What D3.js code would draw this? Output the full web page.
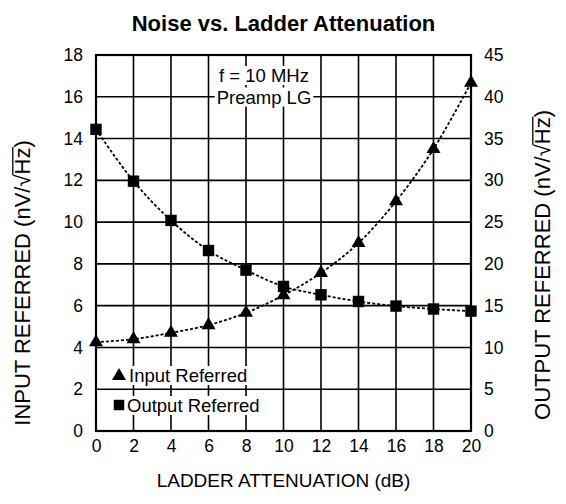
<!DOCTYPE html>
<html>
<head>
<meta charset="utf-8">
<script src="https://cdn.jsdelivr.net/npm/d3@7"></script>
<style>
  body { margin: 0; background: #fff; }
  svg { display: block; font-family: "Liberation Sans", Arial, sans-serif; }
</style>
</head>
<body>
<div id="chart"></div>
<script>
// values
const attenuation = [0, 2, 4, 6, 8, 10, 12, 14, 16, 18, 20];
const inputReferred = [4.25, 4.4, 4.7, 5.07, 5.66, 6.5, 7.57, 9.0, 11.0, 13.5, 16.67];
const outputReferred = [36.1, 29.9, 25.2, 21.6, 19.25, 17.3, 16.3, 15.5, 14.95, 14.6, 14.35];
const leftTicks = [0, 2, 4, 6, 8, 10, 12, 14, 16, 18];
const rightTicks = [0, 5, 10, 15, 20, 25, 30, 35, 40, 45];
const notes = ["f = 10 MHz", "Preamp LG"];
const legendItems = ["Input Referred", "Output Referred"];

const width = 566, height = 504;
const margin = {top: 55, right: 95, bottom: 73, left: 96};
const w = width - margin.left - margin.right;
const h = height - margin.top - margin.bottom;

const svg = d3.select("#chart")
    .append("svg")
    .attr("width", width)
    .attr("height", height);

const g = svg.append("g")
    .attr("transform", "translate(" + margin.left + "," + margin.top + ")");

const x = d3.scaleLinear().domain([0, 20]).range([0, w]);
const yL = d3.scaleLinear().domain([0, 18]).range([h, 0]);
const yR = d3.scaleLinear().domain([0, 45]).range([h, 0]);

// grid
g.append("g")
    .selectAll("line.v")
    .data(attenuation)
    .join("line")
    .attr("x1", d => x(d)).attr("x2", d => x(d))
    .attr("y1", 0).attr("y2", h)
    .attr("stroke", "#000").attr("stroke-width", 1.6);

g.append("g")
    .selectAll("line.h")
    .data(leftTicks)
    .join("line")
    .attr("x1", 0).attr("x2", w)
    .attr("y1", d => yL(d)).attr("y2", d => yL(d))
    .attr("stroke", "#000").attr("stroke-width", 1.6);

g.append("rect")
    .attr("width", w).attr("height", h)
    .attr("fill", "none").attr("stroke", "#000").attr("stroke-width", 2.2);

// axes
const axL = g.append("g")
    .call(d3.axisLeft(yL).tickValues(leftTicks).tickSize(0).tickPadding(13));
const axR = g.append("g")
    .attr("transform", "translate(" + w + ",0)")
    .call(d3.axisRight(yR).tickValues(rightTicks).tickSize(0).tickPadding(13));
const axB = g.append("g")
    .attr("transform", "translate(0," + h + ")")
    .call(d3.axisBottom(x).tickValues(attenuation).tickSize(0).tickPadding(9));

[axL, axR, axB].forEach(a => {
  a.select(".domain").remove();
  a.selectAll("text")
      .attr("font-size", "17.5px")
      .attr("font-family", "Liberation Sans, Arial, sans-serif")
      .attr("fill", "#000");
});

// annotation boxes with white background
function boxedText(parent, tx, ty, str, anchor, size) {
  const grp = parent.append("g");
  const bg = grp.append("rect").attr("fill", "#fff");
  const t = grp.append("text")
      .attr("x", tx).attr("y", ty)
      .attr("text-anchor", anchor)
      .attr("font-size", size)
      .text(str);
  const b = t.node().getBBox();
  bg.attr("x", b.x - 2).attr("y", b.y + 1)
    .attr("width", b.width + 4).attr("height", b.height - 2);
  return grp;
}

boxedText(svg, 264, 82, notes[0], "middle", "18.5px");
boxedText(svg, 264, 103.5, notes[1], "middle", "18.5px");

// lines
const line = (ys, sc) => d3.line()
    .x((d, i) => x(attenuation[i]))
    .y(d => sc(d))
    .curve(d3.curveCatmullRom)(ys);

g.append("path")
    .attr("d", line(outputReferred, yR))
    .attr("fill", "none").attr("stroke", "#000")
    .attr("stroke-width", 1.8).attr("stroke-dasharray", "3,2");

g.append("path")
    .attr("d", line(inputReferred, yL))
    .attr("fill", "none").attr("stroke", "#000")
    .attr("stroke-width", 1.8).attr("stroke-dasharray", "3,2");

const tri = d3.symbol().type(d3.symbolTriangle).size(85);
const sq = d3.symbol().type(d3.symbolSquare).size(130);

g.selectAll("path.tri")
    .data(inputReferred)
    .join("path")
    .attr("class", "tri")
    .attr("d", tri)
    .attr("transform", (d, i) => "translate(" + x(attenuation[i]) + "," + yL(d) + ")")
    .attr("fill", "#000");

g.selectAll("path.sq")
    .data(outputReferred)
    .join("path")
    .attr("class", "sq")
    .attr("d", sq)
    .attr("transform", (d, i) => "translate(" + x(attenuation[i]) + "," + yR(d) + ")")
    .attr("fill", "#000");

// legend
boxedText(svg, 129, 382, legendItems[0], "start", "18.5px");
boxedText(svg, 127, 412, legendItems[1], "start", "18.5px");
svg.append("path").attr("d", tri).attr("transform", "translate(119,376)");
svg.append("path").attr("d", d3.symbol().type(d3.symbolSquare).size(110))
    .attr("transform", "translate(119,405)");

// title
svg.append("text")
    .attr("x", margin.left + w / 2).attr("y", 31)
    .attr("text-anchor", "middle")
    .attr("font-size", "22px").attr("font-weight", "bold")
    .text("Noise vs. Ladder Attenuation");

// x axis title
svg.append("text")
    .attr("x", margin.left + w / 2).attr("y", 487)
    .attr("text-anchor", "middle")
    .attr("font-size", "19px")
    .text("LADDER ATTENUATION (dB)");

// y axis titles with radical + overline over Hz
function sqrtLabel(cx, cy, prefix) {
  const grp = svg.append("g")
      .attr("transform", "translate(" + cx + "," + cy + ") rotate(-90)");
  const str = prefix + " (nV/\u221AHz)";
  const t = grp.append("text")
      .attr("x", 0).attr("y", 0)
      .attr("text-anchor", "middle")
      .attr("font-size", "22px")
      .text(str);
  const node = t.node();
  const iRad = str.indexOf("\u221A");
  const x0 = node.getEndPositionOfChar(iRad).x - 0.5;
  const x1 = node.getEndPositionOfChar(iRad + 2).x + 0.5;
  grp.append("line")
      .attr("x1", x0).attr("x2", x1)
      .attr("y1", -17.2).attr("y2", -17.2)
      .attr("stroke", "#000").attr("stroke-width", 1.3);
}

sqrtLabel(30, 283, "INPUT REFERRED");
sqrtLabel(550, 265, "OUTPUT REFERRED");
</script>
</body>
</html>
